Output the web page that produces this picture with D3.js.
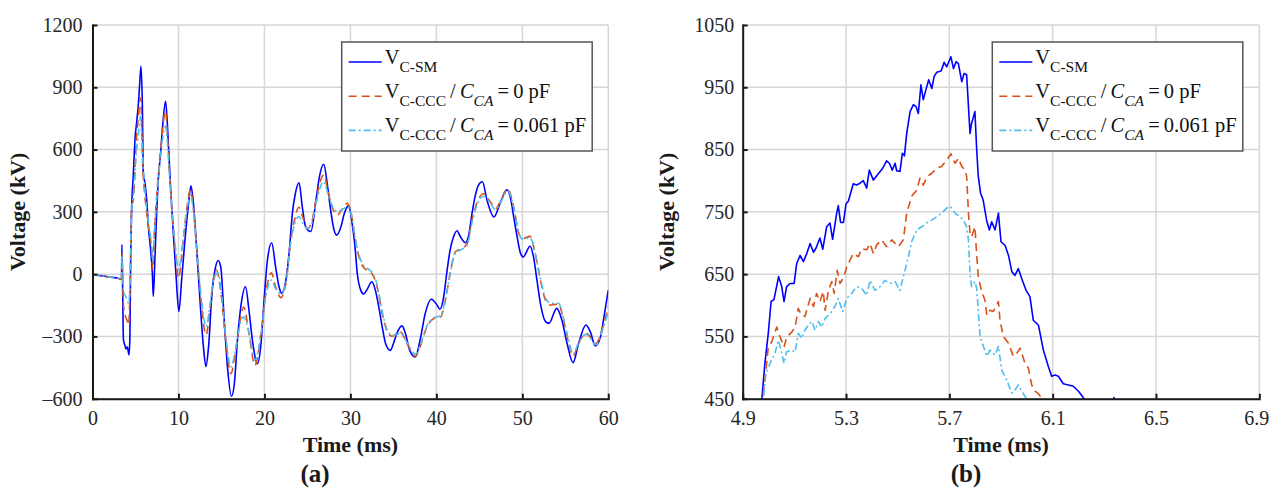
<!DOCTYPE html>
<html>
<head>
<meta charset="utf-8">
<script src="https://cdn.jsdelivr.net/npm/d3@7"></script>
<style>
  body { margin: 0; background: #fff; }
  svg { display: block; font-family: "Liberation Serif", "DejaVu Serif", serif; }
  .grid line { stroke: #d6d6d6; stroke-width: 1.5; }
  .axis path, .axis line { stroke: #1a1a1a; stroke-width: 2; }
  .axis text { font-size: 20px; fill: #262626; font-family: "Liberation Serif", serif; }
  .label { font-size: 22px; font-weight: bold; fill: #1a1a1a; }
</style>
</head>
<body>
<div class="chart"></div>
<script>
// panel (a): full record, [time ms, voltage kV]
var smA = [[0,-3],[1,-8],[2,-14],[3,-20],[3.38,-24],[3.42,142],[3.6,-317],[3.75,-340],[3.9,-360],[4.05,-350],[4.25,-389],[4.35,-300],[4.45,100],[4.55,310],[4.75,480],[4.94,648],[5.13,729],[5.3,800],[5.45,890],[5.64,1002],[5.8,809],[5.91,487],[6.1,439],[6.3,359],[6.5,230],[6.76,117],[6.96,5],[7.07,-108],[7.27,85],[7.46,294],[7.65,455],[7.93,584],[8.16,713],[8.5,833],[8.7,729],[8.9,568],[9.1,407],[9.4,198],[9.7,5],[10.05,-180],[10.37,-27],[10.76,166],[11.14,327],[11.45,425],[11.7,359],[12.1,134],[12.5,-124],[12.9,-349],[13.2,-445],[13.5,-349],[13.9,-92],[14.25,21],[14.6,66],[14.92,35],[15.3,-206],[15.7,-447],[16.16,-588],[16.5,-528],[16.86,-318],[17.25,-158],[17.8,-61],[18.2,-174],[18.6,-318],[19.0,-415],[19.2,-431],[19.6,-335],[19.96,-125],[20.35,68],[20.85,151],[21.3,35],[21.7,-61],[22.0,-93],[22.5,-29],[22.9,116],[23.25,293],[23.6,389],[24.03,440],[24.4,325],[24.8,228],[25.4,205],[26.0,357],[26.4,470],[26.9,529],[27.3,437],[27.7,309],[28.1,212],[28.4,188],[28.9,228],[29.3,293],[29.8,330],[30.2,245],[30.5,148],[30.8,3],[31.2,-77],[31.55,-96],[31.9,-77],[32.5,-37],[32.9,-77],[33.3,-158],[33.7,-254],[34.1,-335],[34.65,-367],[35.0,-335],[35.4,-286],[36.0,-249],[36.4,-286],[36.9,-367],[37.55,-399],[38.1,-319],[38.7,-190],[39.4,-121],[40.1,-150],[40.4,-169],[40.85,-109],[41.2,3],[41.6,116],[42.0,180],[42.4,209],[42.8,180],[43.4,151],[43.8,196],[44.15,293],[44.5,373],[44.9,429],[45.35,445],[45.9,355],[46.7,275],[47.4,339],[48.2,406],[48.6,371],[49.0,275],[49.4,179],[49.8,99],[50.1,83],[50.9,134],[51.3,83],[51.7,-29],[52.1,-141],[52.7,-229],[53.1,-237],[54.0,-165],[54.6,-221],[55.2,-333],[55.9,-426],[56.55,-333],[57.4,-245],[57.9,-277],[58.5,-346],[59.1,-301],[59.5,-205],[60,-77]];

var cccA = [[0,-3],[1,-8],[2,-14],[3,-20],[3.38,-24],[3.42,100],[3.6,-150],[3.8,-200],[4.0,-220],[4.2,-245],[4.35,-100],[4.55,326],[4.75,358],[5.13,664],[5.35,760],[5.6,849],[5.84,519],[6.1,375],[6.5,230],[6.9,101],[7.0,21],[7.2,200],[7.46,375],[7.9,584],[8.5,785],[8.7,680],[9.0,455],[9.6,134],[10.0,-19],[10.56,166],[10.95,310],[11.4,407],[11.7,330],[12.1,134],[12.7,-156],[13.2,-293],[13.7,-156],[14.05,-27],[14.4,21],[14.9,-77],[15.5,-319],[16.1,-479],[16.7,-351],[17.25,-206],[17.6,-158],[18.2,-286],[18.9,-439],[19.6,-286],[20.15,-93],[20.8,6],[21.3,-61],[21.9,-113],[22.5,-45],[23.06,164],[23.5,261],[24.0,322],[24.5,270],[25.0,220],[25.5,250],[26.0,360],[26.9,478],[27.5,380],[28.0,310],[28.5,285],[29.0,310],[29.65,341],[30.0,309],[30.8,116],[31.35,43],[31.9,19],[32.5,3],[33.1,-61],[33.7,-190],[34.3,-278],[34.85,-299],[35.4,-286],[35.8,-278],[36.6,-335],[37.55,-396],[38.1,-351],[38.9,-254],[39.7,-214],[40.5,-206],[41.05,-125],[41.6,3],[42.2,108],[43.0,124],[43.6,148],[44.15,261],[44.7,341],[45.5,387],[46.3,347],[46.9,315],[47.4,347],[48.3,411],[49.0,323],[49.6,195],[50.0,171],[50.9,182],[51.5,99],[52.1,-29],[52.7,-125],[53.3,-149],[54.2,-144],[54.8,-221],[55.4,-333],[55.9,-394],[56.55,-333],[57.4,-285],[58.6,-333],[59.25,-269],[60,-157]];

var cccCaA = [[0,-3],[1,-8],[2,-14],[3,-20],[3.38,-24],[3.42,90],[3.6,-80],[3.9,-110],[4.2,-140],[4.35,-60],[4.55,300],[4.75,380],[5.13,600],[5.4,700],[5.6,760],[5.84,560],[6.1,400],[6.5,250],[6.9,120],[7.0,60],[7.2,200],[7.46,360],[7.9,560],[8.5,713],[8.7,640],[9.0,450],[9.6,150],[10.0,21],[10.56,170],[10.95,300],[11.4,380],[11.7,320],[12.1,140],[12.7,-130],[13.2,-253],[13.7,-140],[14.05,-30],[14.6,5],[14.9,-60],[15.5,-300],[16.1,-447],[16.7,-350],[17.25,-230],[17.6,-206],[18.2,-280],[18.9,-415],[19.6,-290],[20.15,-110],[20.8,-29],[21.3,-70],[21.9,-93],[22.5,-40],[23.06,150],[23.5,240],[24.0,277],[24.5,240],[25.0,220],[25.5,245],[26.0,340],[26.9,446],[27.5,370],[28.0,320],[28.5,301],[29.0,310],[29.65,325],[30.0,300],[30.8,120],[31.35,55],[31.9,30],[32.5,10],[33.1,-50],[33.7,-180],[34.3,-270],[34.85,-295],[35.4,-290],[35.8,-285],[36.6,-330],[37.55,-385],[38.1,-345],[38.9,-250],[39.7,-210],[40.5,-200],[41.05,-120],[41.6,0],[42.2,100],[43.0,120],[43.6,140],[44.15,250],[44.7,330],[45.5,375],[46.3,340],[46.9,310],[47.4,340],[48.3,400],[49.0,320],[49.6,195],[50.0,170],[50.9,175],[51.5,100],[52.1,-20],[52.7,-115],[53.3,-140],[54.2,-140],[54.8,-215],[55.4,-320],[55.9,-385],[56.55,-330],[57.4,-290],[58.6,-340],[59.25,-280],[60,-180]];

// panel (b): zoom on the first peak
var smB = [[4.9,380],[4.974,450],[4.986,507],[4.999,555],[5.01,606],[5.021,609],[5.039,646],[5.051,630],[5.06,606],[5.07,630],[5.083,635],[5.099,635],[5.109,667],[5.122,680],[5.135,670],[5.148,683],[5.161,699],[5.174,685],[5.184,692],[5.199,708],[5.21,690],[5.225,726],[5.238,732],[5.248,706],[5.264,748],[5.27,760],[5.279,733],[5.29,733],[5.3,763],[5.309,767],[5.328,795],[5.341,793],[5.354,796],[5.367,800],[5.38,788],[5.39,817],[5.406,801],[5.425,811],[5.442,820],[5.457,832],[5.468,828],[5.479,817],[5.49,828],[5.496,816],[5.509,815],[5.518,844],[5.526,840],[5.535,876],[5.548,911],[5.561,922],[5.571,919],[5.58,908],[5.59,954],[5.599,930],[5.61,947],[5.62,962],[5.632,948],[5.641,967],[5.651,974],[5.668,976],[5.68,990],[5.69,983],[5.706,999],[5.716,980],[5.726,991],[5.735,988],[5.748,959],[5.757,972],[5.767,970],[5.78,876],[5.786,892],[5.799,911],[5.806,849],[5.812,807],[5.821,780],[5.831,769],[5.844,737],[5.855,721],[5.864,734],[5.877,721],[5.89,748],[5.9,702],[5.916,696],[5.929,680],[5.942,654],[5.954,648],[5.967,659],[5.98,643],[5.997,624],[6.012,614],[6.025,576],[6.045,568],[6.064,528],[6.083,502],[6.096,486],[6.109,488],[6.122,486],[6.141,474],[6.161,472],[6.18,470],[6.2,462],[6.216,453],[6.225,448],[6.26,440],[6.33,441],[6.337,452],[6.345,441],[6.4,435]];

var cccB = [[4.9,380],[4.977,450],[4.986,480],[4.999,533],[5.012,541],[5.032,565],[5.045,549],[5.06,533],[5.07,549],[5.09,557],[5.103,565],[5.115,595],[5.128,584],[5.141,582],[5.161,611],[5.174,598],[5.186,619],[5.199,606],[5.212,622],[5.219,592],[5.232,624],[5.245,638],[5.254,619],[5.266,656],[5.277,635],[5.292,646],[5.303,662],[5.315,672],[5.328,683],[5.348,678],[5.361,691],[5.38,689],[5.393,699],[5.406,683],[5.419,697],[5.438,705],[5.457,694],[5.477,705],[5.503,694],[5.522,705],[5.535,748],[5.554,775],[5.574,785],[5.586,804],[5.599,793],[5.615,807],[5.632,812],[5.651,820],[5.67,823],[5.69,833],[5.706,843],[5.722,828],[5.735,836],[5.748,823],[5.761,817],[5.767,807],[5.774,748],[5.78,716],[5.786,710],[5.799,726],[5.806,680],[5.812,646],[5.825,622],[5.838,608],[5.845,584],[5.857,592],[5.87,590],[5.89,606],[5.896,576],[5.909,550],[5.929,539],[5.948,518],[5.961,523],[5.974,531],[5.993,507],[6.006,499],[6.019,472],[6.032,462],[6.049,456],[6.058,449],[6.1,430]];

var cccCaB = [[4.9,461],[4.905,448],[4.95,400],[4.98,450],[4.99,491],[5.006,507],[5.025,523],[5.038,544],[5.051,523],[5.06,507],[5.07,525],[5.09,528],[5.103,525],[5.115,555],[5.128,547],[5.141,560],[5.154,568],[5.167,574],[5.18,560],[5.193,574],[5.206,565],[5.219,579],[5.232,584],[5.245,590],[5.257,598],[5.27,611],[5.287,590],[5.303,611],[5.322,619],[5.341,630],[5.361,627],[5.38,616],[5.393,640],[5.412,624],[5.432,630],[5.451,640],[5.47,635],[5.49,638],[5.509,624],[5.522,646],[5.535,667],[5.554,702],[5.574,721],[5.593,726],[5.612,732],[5.632,737],[5.651,742],[5.67,748],[5.69,756],[5.703,759],[5.722,748],[5.741,742],[5.754,737],[5.767,726],[5.774,705],[5.78,651],[5.786,630],[5.799,638],[5.806,627],[5.819,550],[5.832,534],[5.845,518],[5.857,528],[5.877,520],[5.89,534],[5.903,496],[5.922,480],[5.942,459],[5.954,464],[5.967,472],[5.98,462],[5.993,454],[6.0,448],[6.05,420]];

var xTicksA = [0, 10, 20, 30, 40, 50, 60],
    yTicksA = [-600, -300, 0, 300, 600, 900, 1200],
    xTicksB = [4.9, 5.3, 5.7, 6.1, 6.5, 6.9],
    yTicksB = [450, 550, 650, 750, 850, 950, 1050];

var seriesStyle = [
  { color: '#0000ff', dash: null },
  { color: '#d95319', dash: '8,5' },
  { color: '#4dbeee', dash: '7,3,2,3' }
];

function init() {
  var width = 1270,
      height = 490,
      top = 25,
      bottom = 398.7;

  var svg = d3.select('.chart')
    .append('svg')
      .attr('width', width)
      .attr('height', height);

  function drawPanel(p) {
    var x = d3.scaleLinear().domain(p.xDomain).range([p.left, p.right]);
    var y = d3.scaleLinear().domain(p.yDomain).range([bottom, top]);
    var g = svg.append('g');

    g.append('clipPath')
        .attr('id', p.id + '-clip')
      .append('rect')
        .attr('x', p.left)
        .attr('y', top)
        .attr('width', p.right - p.left)
        .attr('height', bottom - top);

    var grid = g.append('g').attr('class', 'grid');
    grid.selectAll('line.v')
      .data(p.xTicks)
      .enter().append('line')
        .attr('x1', function(d) { return x(d); })
        .attr('x2', function(d) { return x(d); })
        .attr('y1', top)
        .attr('y2', bottom);
    grid.selectAll('line.h')
      .data(p.yTicks)
      .enter().append('line')
        .attr('x1', p.left)
        .attr('x2', p.right)
        .attr('y1', function(d) { return y(d); })
        .attr('y2', function(d) { return y(d); });

    var line = d3.line()
        .x(function(d) { return x(d[0]); })
        .y(function(d) { return y(d[1]); })
        .curve(p.curve);

    g.append('g')
        .attr('clip-path', 'url(#' + p.id + '-clip)')
      .selectAll('path')
      .data(p.series)
      .enter().append('path')
        .attr('d', line)
        .attr('fill', 'none')
        .attr('stroke', function(d, i) { return seriesStyle[i].color; })
        .attr('stroke-width', 1.6)
        .attr('stroke-dasharray', function(d, i) { return seriesStyle[i].dash; })
        .attr('stroke-linejoin', 'round');

    var fmt = function(d) { return d < 0 ? '\u2013' + Math.abs(d) : String(d); };

    var xAxis = g.append('g')
        .attr('class', 'axis')
        .attr('transform', 'translate(0,' + bottom + ')')
        .call(d3.axisBottom(x).tickValues(p.xTicks).tickFormat(p.xFormat)
          .tickSizeInner(-5).tickSizeOuter(0).tickPadding(12));
    // last label sits on the page edge
    xAxis.selectAll('.tick:last-of-type text').attr('dx', p.lastDx);

    g.append('g')
        .attr('class', 'axis')
        .attr('transform', 'translate(' + p.left + ',0)')
        .call(d3.axisLeft(y).tickValues(p.yTicks).tickFormat(fmt)
          .tickSizeInner(-5).tickSizeOuter(0).tickPadding(p.yPad));

    g.selectAll('.axis .domain').attr('stroke-linecap', 'square');

    var cx = (p.left + p.right) / 2;
    g.append('text')
        .attr('class', 'label')
        .attr('x', cx)
        .attr('y', 452)
        .attr('text-anchor', 'middle')
        .text('Time (ms)');

    g.append('text')
        .attr('class', 'label')
        .attr('transform', 'translate(' + p.yLabelX + ',' + ((top + bottom) / 2) + ') rotate(-90)')
        .attr('text-anchor', 'middle')
        .text('Voltage (kV)');

    g.append('text')
        .attr('class', 'label')
        .attr('x', p.tagX)
        .attr('y', 482)
        .attr('text-anchor', 'middle')
        .style('font-size', '25px')
        .text(p.tag);

    // legend
    var lx = p.legendX, ly = 42, lw = 250.5, lh = 109;
    var lg = g.append('g');
    lg.append('rect')
        .attr('x', lx)
        .attr('y', ly)
        .attr('width', lw)
        .attr('height', lh)
        .attr('fill', '#fff')
        .attr('stroke', '#555')
        .attr('stroke-width', 1.5);

    var entries = [
      { sub: 'C-SM', cap: null },
      { sub: 'C-CCC', cap: '0 pF' },
      { sub: 'C-CCC', cap: '0.061 pF' }
    ];
    entries.forEach(function(e, i) {
      var by = ly + 21.5 + i * 34.2;
      lg.append('line')
          .attr('x1', lx + 7)
          .attr('x2', lx + 40)
          .attr('y1', by - 1.5)
          .attr('y2', by - 1.5)
          .attr('stroke', seriesStyle[i].color)
          .attr('stroke-width', 1.6)
          .attr('stroke-dasharray', seriesStyle[i].dash);
      var t = lg.append('text')
          .attr('x', lx + 43)
          .attr('y', by)
          .style('font-size', '20.5px')
          .attr('fill', '#111');
      t.append('tspan').text('V');
      t.append('tspan').attr('dy', 8).style('font-size', '15.5px').text(e.sub);
      if (e.cap) {
        t.append('tspan').attr('dy', -8).text('\u2009/\u2009');
        t.append('tspan').style('font-style', 'italic').text('C');
        t.append('tspan').attr('dy', 8).style('font-size', '15.5px').style('font-style', 'italic').text('CA');
        t.append('tspan').attr('dy', -8).text('\u2009=\u2009' + e.cap);
      }
    });
  }

  drawPanel({
    id: 'a', left: 92.5, right: 608.3,
    xDomain: [0, 60], yDomain: [-600, 1200],
    xTicks: xTicksA, yTicks: yTicksA,
    xFormat: function(d) { return String(d); },
    yPad: 10, yLabelX: 25, tagX: 315, legendX: 341.7, lastDx: 0,
    curve: d3.curveMonotoneX,
    series: [smA, cccA, cccCaA], tag: '(a)'
  });

  drawPanel({
    id: 'b', left: 742.7, right: 1259.3,
    xDomain: [4.9, 6.9], yDomain: [450, 1050],
    xTicks: xTicksB, yTicks: yTicksB,
    xFormat: d3.format('.1f'),
    yPad: 8.5, yLabelX: 674, tagX: 966, legendX: 992.3, lastDx: -3,
    curve: d3.curveLinear,
    series: [smB, cccB, cccCaB], tag: '(b)'
  });
}

d3.select(window).on('load', init);
</script>
</body>
</html>
